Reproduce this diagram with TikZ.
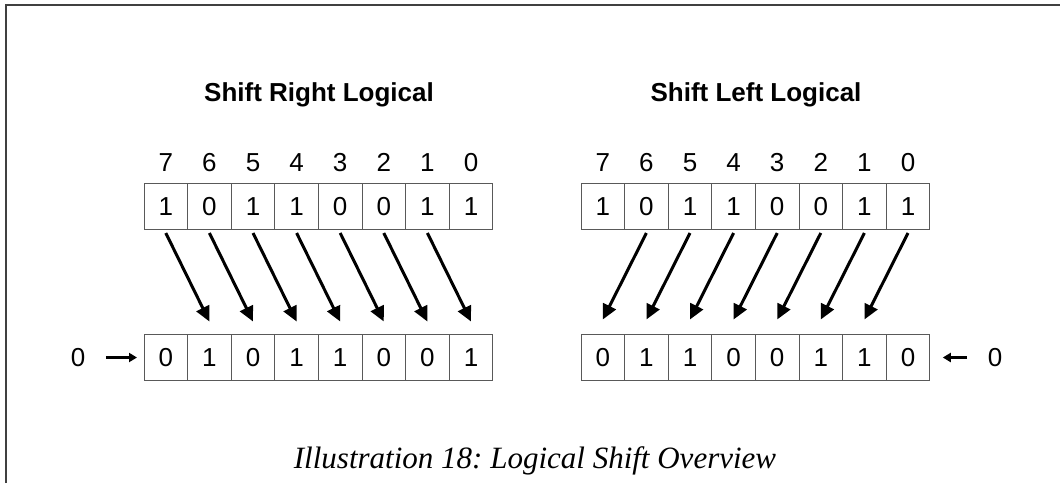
\documentclass[tikz,border=0pt]{standalone}
\usepackage{fontspec}
\setmainfont{Liberation Sans}
\newfontfamily\captionfont{Liberation Serif}
\usetikzlibrary{arrows.meta, positioning}

\begin{document}
\frenchspacing
\begin{tikzpicture}[
  x=1pt, y=-1pt,
  font=\fontsize{26}{30}\selectfont,
  digit/.style={text height=18.6pt, text depth=0pt},
  cell/.style={
    digit, rectangle,
    draw=black!65, line width=0.9pt,
    minimum width=43.6pt, minimum height=46pt,
    inner sep=0pt, outer sep=0pt
  },
  title/.style={font=\fontsize{26}{30}\selectfont\bfseries},
  shiftarrow/.style={-{Triangle[length=15pt,width=14pt]}, line width=3pt},
  fillarrow/.style={-{Triangle[length=8pt,width=9pt]}, line width=3pt}
]

\useasboundingbox (0,0) rectangle (1060,483);
\draw[black!75, line width=1.2pt] (6,483) -- (6,5) -- (1060,5);

\node[title] (titleL) at (319,95) {Shift Right Logical};
\node[title] (titleR) at (756,95) {Shift Left Logical};

% bit numbers and source registers
\foreach \b [count=\i from 0] in {1,0,1,1,0,0,1,1} {
  \pgfmathtruncatemacro{\n}{7-\i}
  \node[digit] (numL\i) at (165.8+43.6*\i,162) {\n};
  \node[digit] (numR\i) at (602.8+43.6*\i,162) {\n};
  \node[cell] (srcL\i) at (165.8+43.6*\i,206) {\b};
  \node[cell] (srcR\i) at (602.8+43.6*\i,206) {\b};
}

% result registers
\foreach \b [count=\i from 0] in {0,1,0,1,1,0,0,1}
  \node[cell] (resL\i) at (165.8+43.6*\i,357.5) {\b};
\foreach \b [count=\i from 0] in {0,1,1,0,0,1,1,0}
  \node[cell] (resR\i) at (602.8+43.6*\i,357.5) {\b};

% shifted bits
\foreach \i [evaluate=\i as \j using int(\i+1)] in {0,...,6} {
  \draw[shiftarrow] ([yshift=-4pt]srcL\i.south) -- ([yshift=13pt]resL\j.north);
  \draw[shiftarrow] ([yshift=-4pt]srcR\j.south) -- ([yshift=15pt]resR\i.north);
}

% zero fill
\node[digit] (zeroL) at (78,357.5) {0};
\node[digit] (zeroR) at (995,357.5) {0};
\draw[fillarrow, shorten <=17pt, shorten >=7pt] (zeroL) -- (resL0);
\draw[fillarrow, shorten <=17pt, shorten >=13pt] (zeroR) -- (resR7);

\node[font=\fontsize{31}{36}\selectfont\captionfont\itshape] (caption) at (535,461)
  {Illustration 18: Logical Shift Overview};

\end{tikzpicture}
\end{document}
